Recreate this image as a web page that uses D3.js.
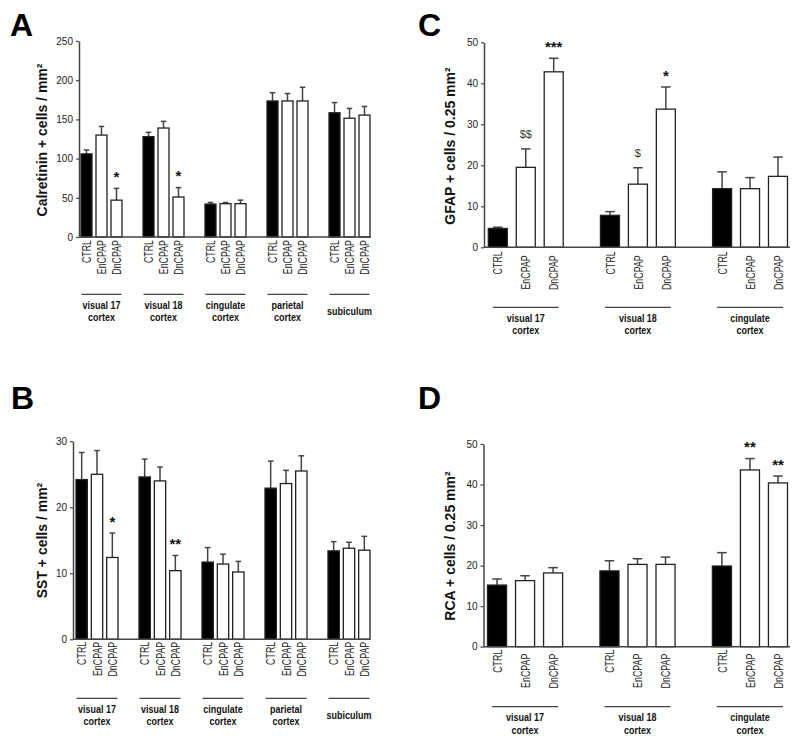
<!DOCTYPE html>
<html><head><meta charset="utf-8">
<script src="https://cdn.jsdelivr.net/npm/d3@7"></script>
<style>
body{margin:0;background:#fff}
svg{display:block;font-family:Arial,"Liberation Sans",Helvetica,sans-serif}
</style>
</head><body>
<svg id="chart" width="800" height="743"></svg>
<script>
// ---------------- data ----------------
const conditions = ["CTRL", "EnCPAP", "DnCPAP"];
const regionsAB = [["visual 17", "cortex"], ["visual 18", "cortex"], ["cingulate", "cortex"], ["parietal", "cortex"], ["subiculum"]];
const regionsCD = [["visual 17", "cortex"], ["visual 18", "cortex"], ["cingulate", "cortex"]];

const calretininTicks = [0, 50, 100, 150, 200, 250];
const calretininMean = [[106, 130, 47], [128, 139, 51], [42, 42.5, 42.5], [173.5, 173.5, 173.5], [158.5, 151.5, 155.5]];
const calretininSEM  = [[5, 11, 15], [5.5, 8.5, 12], [2, 1.5, 4.5], [10.5, 9.5, 17.5], [13, 12.5, 11]];
const calretininSig  = [["", "", "*"], ["", "", "*"], ["", "", ""], ["", "", ""], ["", "", ""]];

const sstTicks = [0, 10, 20, 30];
const sstMean = [[24.2, 25.0, 12.4], [24.6, 24.0, 10.4], [11.7, 11.4, 10.2], [22.9, 23.6, 25.5], [13.4, 13.8, 13.5]];
const sstSEM  = [[4.1, 3.6, 3.7], [2.7, 2.1, 2.3], [2.2, 1.5, 1.6], [4.1, 2.0, 2.3], [1.4, 0.9, 2.1]];
const sstSig  = [["", "", "*"], ["", "", "**"], ["", "", ""], ["", "", ""], ["", "", ""]];

const gfapTicks = [0, 10, 20, 30, 40, 50];
const gfapMean = [[4.6, 19.5, 42.8], [7.8, 15.4, 33.7], [14.3, 14.3, 17.3]];
const gfapSEM  = [[0.3, 4.5, 3.3], [0.9, 4.0, 5.4], [4.1, 2.7, 4.7]];
const gfapSig  = [["", "$$", "***"], ["", "$", "*"], ["", "", ""]];

const rcaTicks = [0, 10, 20, 30, 40, 50];
const rcaMean = [[15.2, 16.3, 18.2], [18.7, 20.3, 20.3], [19.9, 43.6, 40.4]];
const rcaSEM  = [[1.5, 1.2, 1.3], [2.5, 1.4, 1.8], [3.3, 2.8, 1.7]];
const rcaSig  = [["", "", ""], ["", "", ""], ["", "**", "**"]];

// ---------------- drawing ----------------
const svg = d3.select("#chart");

function fitText(sel, factor) {
  sel.each(function () {
    const w = this.getComputedTextLength();
    d3.select(this).attr("textLength", w * factor).attr("lengthAdjust", "spacingAndGlyphs");
  });
}

function drawPanel(cfg, groups, means, sems, sigs, ticks) {
  const g = svg.append("g");
  const x = d3.scaleBand().domain(d3.range(groups.length)).range(cfg.band)
    .paddingInner(cfg.gpad).paddingOuter(0);
  const xi = d3.scaleBand().domain(conditions).range([0, x.bandwidth()]).paddingInner(cfg.bpad);
  const y = d3.scaleLinear().domain([ticks[0], ticks[ticks.length - 1]]).range([cfg.y0, cfg.y1]);

  // panel letter
  g.append("text").attr("x", cfg.letterX).attr("y", cfg.letterY)
    .attr("font-size", 32).attr("font-weight", "bold").attr("fill", "#000").text(cfg.letter);

  // y title
  g.append("text")
    .attr("transform", `translate(${cfg.titleX},${cfg.titleY}) rotate(-90)`)
    .attr("text-anchor", "middle").attr("font-size", 14).attr("font-weight", "bold")
    .attr("fill", "#111").text(cfg.title);

  // bars
  groups.forEach((grp, gi) => {
    conditions.forEach((c, ci) => {
      const m = means[gi][ci], e = sems[gi][ci];
      const bx = x(gi) + xi(c), bw = xi.bandwidth(), cx = bx + bw / 2;
      // error bar
      g.append("line").attr("x1", cx).attr("x2", cx).attr("y1", y(m)).attr("y2", y(m + e))
        .attr("stroke", "#444").attr("stroke-width", 1.5);
      g.append("line").attr("x1", cx - bw * 0.25).attr("x2", cx + bw * 0.25)
        .attr("y1", y(m + e)).attr("y2", y(m + e))
        .attr("stroke", "#444").attr("stroke-width", 1.5);
      g.append("rect").attr("x", bx).attr("y", y(m)).attr("width", bw).attr("height", y(0) - y(m))
        .attr("fill", c === "CTRL" ? "#000" : "#fff").attr("stroke", "#222").attr("stroke-width", 1.3);
      // significance
      const s = sigs[gi][ci];
      if (s) {
        const isStar = s[0] === "*";
        const fs = isStar ? 15 : 11;
        const centerY = y(m + e) - 15;
        g.append("text").attr("x", cx).attr("y", centerY + (isStar ? 0.57 : 0.36) * fs)
          .attr("text-anchor", "middle").attr("font-size", fs)
          .attr("font-weight", isStar ? "bold" : "normal")
          .attr("fill", isStar ? "#111" : "#333").text(s);
      }
      // rotated condition label
      const lfs = 13;
      const t = g.append("text")
        .attr("transform", `translate(${cx + 0.716 * lfs / 2},${cfg.y0 + (ci === 0 ? cfg.lab0 : cfg.lab1)}) rotate(-90)`)
        .attr("text-anchor", "end").attr("font-size", lfs).attr("fill", "#222").text(c);
      fitText(t, 0.68);
    });
    // group underline and label
    const gx0 = x(gi) + cfg.inset, gx1 = x(gi) + x.bandwidth() - cfg.inset, gc = (gx0 + gx1) / 2;
    g.append("line").attr("x1", gx0).attr("x2", gx1).attr("y1", cfg.lineY).attr("y2", cfg.lineY)
      .attr("stroke", "#444").attr("stroke-width", 1.3);
    const baseYs = grp.length === 2 ? [cfg.lineY + 14.5, cfg.lineY + 27] : [cfg.lineY + 20.5];
    grp.forEach((ln, li) => {
      const t = g.append("text").attr("x", gc).attr("y", baseYs[li]).attr("text-anchor", "middle")
        .attr("font-size", 11.5).attr("font-weight", "bold").attr("fill", "#111").text(ln);
      fitText(t, 0.78);
    });
  });

  // x axis line
  g.append("line").attr("x1", cfg.axisX).attr("x2", cfg.axisEnd).attr("y1", cfg.y0).attr("y2", cfg.y0)
    .attr("stroke", "#444").attr("stroke-width", 1.5);

  // y axis
  const ax = g.append("g").attr("transform", `translate(${cfg.axisX},0)`)
    .call(d3.axisLeft(y).tickValues(ticks).tickSize(3).tickSizeOuter(0).tickPadding(3));
  ax.select(".domain").attr("stroke", "#444").attr("stroke-width", 1.5);
  ax.selectAll(".tick line").attr("stroke", "#444").attr("stroke-width", 1.2);
  ax.selectAll(".tick text").attr("font-size", 10).attr("fill", "#222")
    .attr("font-family", "Arial,'Liberation Sans',sans-serif");
}

drawPanel({letter: "A", letterX: 10, letterY: 35.5, title: "Calretinin + cells / mm²", titleX: 46.5, titleY: 140,
  y0: 237, y1: 41, axisX: 79, axisEnd: 371, band: [81, 370], gpad: 0.339, bpad: 0.267,
  lineY: 294.3, inset: 0.5, lab0: 3, lab1: 3},
  regionsAB, calretininMean, calretininSEM, calretininSig, calretininTicks);

drawPanel({letter: "B", letterX: 11, letterY: 408.5, title: "SST + cells / mm²", titleX: 46.5, titleY: 540.5,
  y0: 639.3, y1: 441.3, axisX: 73, axisEnd: 370, band: [76, 370], gpad: 0.333, bpad: 0.26,
  lineY: 698.3, inset: 0.5, lab0: 2.5, lab1: 2.5},
  regionsAB, sstMean, sstSEM, sstSig, sstTicks);

drawPanel({letter: "C", letterX: 418, letterY: 35.5, title: "GFAP + cells / 0.25 mm²", titleX: 455, titleY: 146,
  y0: 247.3, y1: 42.3, axisX: 484, axisEnd: 790, band: [488.3, 787.5], gpad: 0.332, bpad: 0.32,
  lineY: 307.3, inset: 4.5, lab0: 4, lab1: 8},
  regionsCD, gfapMean, gfapSEM, gfapSig, gfapTicks);

drawPanel({letter: "D", letterX: 418, letterY: 409, title: "RCA + cells / 0.25 mm²", titleX: 455, titleY: 546,
  y0: 646.7, y1: 444, axisX: 483.5, axisEnd: 790, band: [487.5, 787.5], gpad: 0.332, bpad: 0.32,
  lineY: 706.7, inset: 4.5, lab0: 3, lab1: 7},
  regionsCD, rcaMean, rcaSEM, rcaSig, rcaTicks);
</script>
</body></html>
